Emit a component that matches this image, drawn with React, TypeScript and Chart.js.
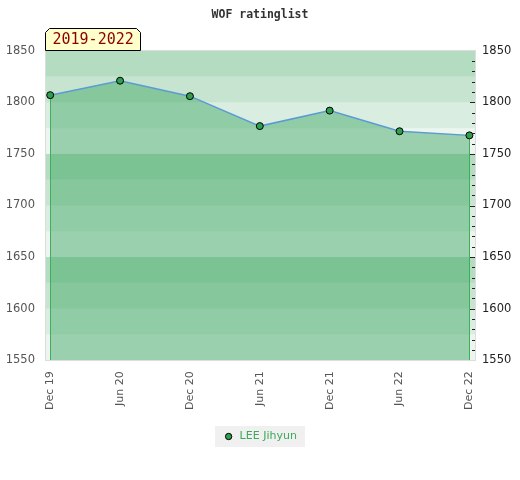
import React, { useEffect, useRef } from "react";
import { Chart, registerables } from "chart.js";

Chart.register(...registerables);

const TITLE = "WOF ratinglist";
const PERIOD = "2019-2022";
const SERIES_NAME = "LEE Jihyun";
const xLabels = ["Dec 19", "Jun 20", "Dec 20", "Jun 21", "Dec 21", "Jun 22", "Dec 22"];
const ratings = [1807, 1821, 1806, 1777, 1792, 1772, 1768];
const yMin = 1550;
const yMax = 1850;
const yStep = 50;

const bandsPlugin = {
  id: "bands",
  beforeDraw(chart: any) {
    const ctx = chart.ctx;
    const lg = chart.legend;
    if (lg && lg.legendHitBoxes && lg.legendHitBoxes.length) {
      const hb = lg.legendHitBoxes[0];
      ctx.save();
      ctx.fillStyle = "#f0f0f0";
      ctx.fillRect(hb.left - 8, hb.top - 5, hb.width + 16, hb.height + 10);
      ctx.restore();
    }
  },
  beforeDatasetsDraw(chart: any) {
    const { ctx, chartArea } = chart;
    const y = chart.scales.y;
    ctx.save();
    const alphas = [0.1, 0.2, 0.3, 0.4];
    let i = 0;
    for (let v = yMin; v < yMax; v += 25) {
      const top = y.getPixelForValue(v + 25);
      const bot = y.getPixelForValue(v);
      ctx.fillStyle = `rgba(65,167,100,${alphas[i % 4]})`;
      ctx.fillRect(chartArea.left, top, chartArea.right - chartArea.left, bot - top);
      i++;
    }
    ctx.restore();
  },
  beforeDatasetDraw(chart: any, args: any) {
    const meta = chart.getDatasetMeta(args.index);
    const pts = meta.data;
    if (!pts.length) return;
    const { ctx, chartArea } = chart;
    ctx.save();
    ctx.strokeStyle = "#3cb05a";
    ctx.lineWidth = 1;
    [pts[0], pts[pts.length - 1]].forEach((p: any) => {
      const x = Math.round(p.x) + 0.5;
      ctx.beginPath();
      ctx.moveTo(x, p.y);
      ctx.lineTo(x, chartArea.bottom);
      ctx.stroke();
    });
    ctx.restore();
  },
  afterDraw(chart: any) {
    const { ctx, chartArea } = chart;
    const y = chart.scales.y;
    ctx.save();
    ctx.strokeStyle = "#dddddd";
    ctx.lineWidth = 1;
    ctx.strokeRect(Math.round(chartArea.left) - 0.5, Math.round(chartArea.top) - 0.5,
      Math.round(chartArea.right - chartArea.left) + 1, Math.round(chartArea.bottom - chartArea.top) + 1);
    ctx.strokeStyle = "#222";
    for (let v = yMin + 10; v < yMax; v += 10) {
      const py = Math.round(y.getPixelForValue(v)) + 0.5;
      const len = v % yStep === 0 ? 5 : 3;
      ctx.beginPath();
      ctx.moveTo(chartArea.right - len, py);
      ctx.lineTo(chartArea.right, py);
      ctx.stroke();
    }
    const bx = Math.round(chartArea.left) - 0.5;
    const by = Math.round(chartArea.top) - 22.5;
    const bw = 95;
    const bh = 22;
    const c = 4;
    ctx.beginPath();
    ctx.moveTo(bx, by + bh);
    ctx.lineTo(bx, by + c);
    ctx.lineTo(bx + c, by);
    ctx.lineTo(bx + bw - c, by);
    ctx.lineTo(bx + bw, by + c);
    ctx.lineTo(bx + bw, by + bh);
    ctx.closePath();
    ctx.fillStyle = "#ffffcc";
    ctx.fill();
    ctx.strokeStyle = "#000";
    ctx.stroke();
    ctx.fillStyle = "#8b0000";
    ctx.font = "15px 'DejaVu Sans Mono'";
    ctx.textBaseline = "middle";
    ctx.fillText(PERIOD, bx + 7, by + bh / 2 + 1);
    ctx.restore();
  },
};

export default function App() {
  const ref = useRef<HTMLCanvasElement>(null);
  useEffect(() => {
    const chart = new Chart(ref.current!, {
      type: "line",
      data: {
        datasets: [
          {
            label: SERIES_NAME,
            data: ratings.map((r, i) => ({ x: i, y: r })),
            borderColor: "#5b9bd5",
            borderWidth: 1.5,
            backgroundColor: "rgba(65,167,100,0.48)",
            fill: "start",
            pointRadius: 3.5,
            pointBackgroundColor: "#2e9e4f",
            pointBorderColor: "#000",
            pointBorderWidth: 1,
            tension: 0,
          },
        ],
      },
      options: {
        animation: false,
        responsive: true,
        maintainAspectRatio: false,
        layout: { padding: { left: 0, right: 0, top: 6, bottom: 28 } },
        plugins: {
          title: {
            display: true,
            text: TITLE,
            color: "#333",
            font: { family: "'DejaVu Sans Mono'", size: 11.5, weight: "bold" },
            padding: { top: 2, bottom: 29 },
          },
          legend: {
            position: "bottom",
            labels: {
              usePointStyle: true,
              boxWidth: 11,
              boxHeight: 4.5,
              color: "#3caa5a",
              font: { family: "'DejaVu Sans'", size: 11 },
              padding: 10,
            },
          },
          tooltip: { enabled: false },
        },
        scales: {
          x: {
            type: "linear",
            min: -0.06,
            max: 6.08,
            afterBuildTicks(scale: any) {
              scale.ticks = xLabels.map((_, i) => ({ value: i }));
            },
            ticks: {
              autoSkip: false,
              maxRotation: 90,
              minRotation: 90,
              color: "#555",
              font: { family: "'DejaVu Sans'", size: 11 },
              callback: (v: any) => xLabels[v] ?? "",
              padding: 11,
            },
            grid: { display: false, drawTicks: false, tickLength: 0 },
            border: { display: false },
          },
          y: {
            position: "left",
            min: yMin,
            max: yMax,
            afterFit(scale: any) {
              scale.width = 46;
            },
            ticks: {
              stepSize: yStep,
              color: "#555",
              font: { family: "'DejaVu Sans'", size: 11.5 },
              padding: 11,
              callback: (v: any) => String(v),
            },
            grid: { display: false, drawTicks: false, tickLength: 0 },
            border: { display: false },
          },
          y2: {
            position: "right",
            min: yMin,
            max: yMax,
            afterFit(scale: any) {
              scale.width = 45;
            },
            ticks: {
              stepSize: yStep,
              color: "#222",
              font: { family: "'DejaVu Sans'", size: 11.5 },
              padding: 7,
              callback: (v: any) => String(v),
            },
            grid: { display: false, drawTicks: false, tickLength: 0 },
            border: { display: false },
          },
        },
      },
      plugins: [bandsPlugin],
    } as any);
    return () => chart.destroy();
  }, []);
  return (
    <div style={{ position: "fixed", left: 0, top: 0, width: 520, height: 480, background: "#fff" }}>
      <canvas ref={ref} />
    </div>
  );
}
